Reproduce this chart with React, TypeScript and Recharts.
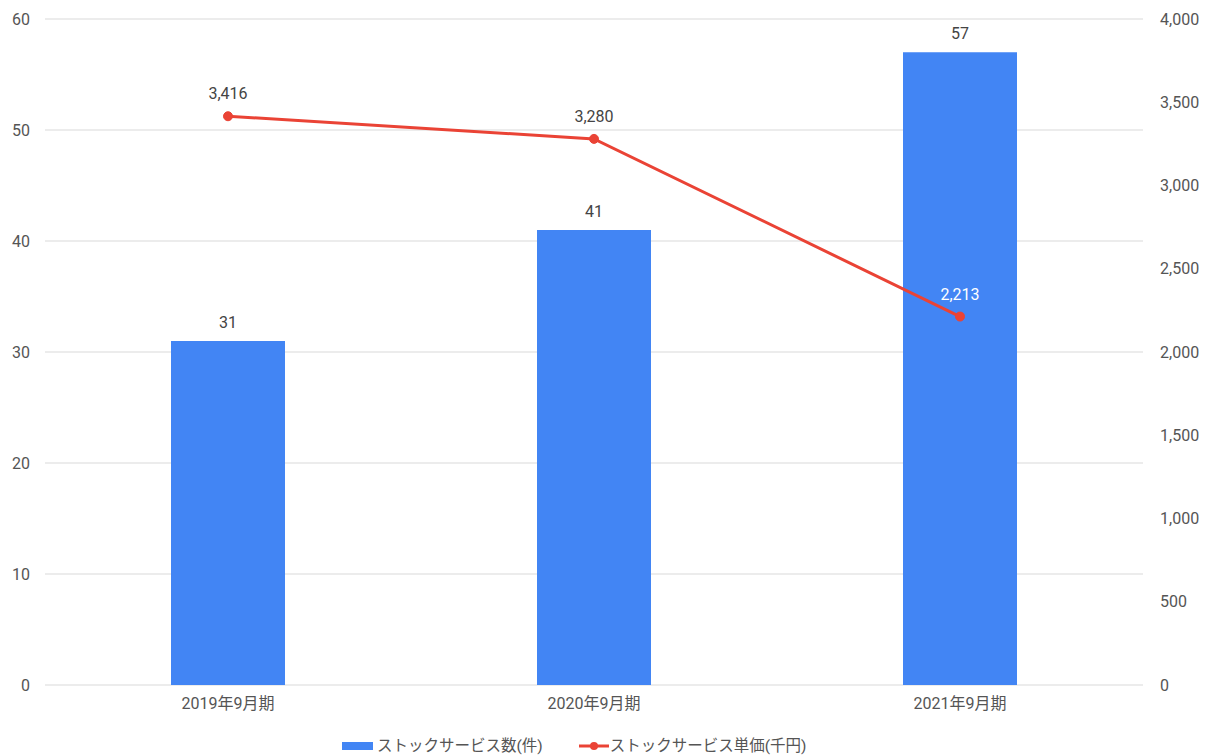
import React from "react";
import {
  ComposedChart,
  Bar,
  Line,
  XAxis,
  YAxis,
  CartesianGrid,
  Legend,
  LabelList,
} from "recharts";

const categories = ["2019年9月期", "2020年9月期", "2021年9月期"];
const serviceCounts = [31, 41, 57];
const unitPrices = [3416, 3280, 2213];
const leftTicks = [0, 10, 20, 30, 40, 50, 60];
const rightTicks = [0, 500, 1000, 1500, 2000, 2500, 3000, 3500, 4000];
const barName = "ストックサービス数(件)";
const lineName = "ストックサービス単価(千円)";
const lineLabelColors = ["#444444", "#444444", "#ffffff"];

const data = categories.map((c, i) => ({
  name: c,
  count: serviceCounts[i],
  price: unitPrices[i],
}));

const FONT = "Roboto, 'Noto Sans CJK JP', Arial, sans-serif";
const BLUE = "#4285F4";
const RED = "#EA4335";
const TICK = { fill: "#555555", fontSize: 16, fontFamily: FONT };

const fmt = (v: number) => v.toLocaleString("en-US");

const LineLabel = (props: any) => {
  const { x, y, value, index } = props;
  return (
    <text
      x={x}
      y={y - 17}
      textAnchor="middle"
      fill={lineLabelColors[index]}
      fontSize={16}
      fontFamily={FONT}
    >
      {fmt(value)}
    </text>
  );
};

const BarLabel = (props: any) => {
  const { x, y, width, value } = props;
  return (
    <text
      x={x + width / 2}
      y={y - 13}
      textAnchor="middle"
      fill="#444444"
      fontSize={16}
      fontFamily={FONT}
    >
      {value}
    </text>
  );
};

const LegendContent = () => (
  <div
    style={{
      height: 41,
      boxSizing: "border-box",
      paddingTop: 20,
      paddingLeft: 342,
      display: "flex",
      alignItems: "center",
      fontFamily: FONT,
      fontSize: 15.5,
      color: "#555555",
      lineHeight: "20px",
    }}
  >
    <span style={{ display: "flex", alignItems: "center" }}>
      <span
        style={{
          display: "inline-block",
          width: 31,
          height: 8,
          background: BLUE,
          marginRight: 4,
        }}
      />
      {barName}
    </span>
    <span style={{ display: "flex", alignItems: "center", marginLeft: 36 }}>
      <svg width={30} height={12} style={{ marginRight: 1 }}>
        <line x1={0} y1={6} x2={30} y2={6} stroke={RED} strokeWidth={3} />
        <circle cx={15} cy={6} r={4} fill={RED} />
      </svg>
      {lineName}
    </span>
  </div>
);

export default function App() {
  return (
    <div style={{ position: "absolute", left: 0, top: 0, background: "#fff" }}>
      <ComposedChart
        width={1208}
        height={756}
        data={data}
        margin={{ top: 19, right: 0, left: 0, bottom: 0 }}
      >
        <CartesianGrid
          yAxisId="left"
          vertical={false}
          stroke="#e6e6e6"
          strokeWidth={1.5}
        />
        <XAxis
          dataKey="name"
          tickLine={false}
          axisLine={false}
          height={30}
          tickMargin={7}
          tick={TICK}
        />
        <YAxis
          yAxisId="left"
          domain={[0, 60]}
          ticks={leftTicks}
          width={45}
          tickLine={false}
          axisLine={false}
          tickMargin={9}
          tick={TICK}
        />
        <YAxis
          yAxisId="right"
          orientation="right"
          domain={[0, 4000]}
          ticks={rightTicks}
          width={65}
          tickLine={false}
          axisLine={false}
          tickMargin={11}
          tick={{ ...TICK, textAnchor: "start" }}
          tickFormatter={fmt}
        />
        <Legend
          verticalAlign="bottom"
          content={LegendContent}
          wrapperStyle={{ left: 0, width: 1208 }}
        />
        <Bar
          yAxisId="left"
          dataKey="count"
          name={barName}
          fill={BLUE}
          barSize={114}
          isAnimationActive={false}
        >
          <LabelList dataKey="count" content={BarLabel} />
        </Bar>
        <Line
          yAxisId="right"
          dataKey="price"
          name={lineName}
          stroke={RED}
          strokeWidth={3}
          dot={{ r: 4.5, fill: RED, stroke: RED, strokeWidth: 1 }}
          activeDot={false}
          isAnimationActive={false}
        >
          <LabelList dataKey="price" content={LineLabel} />
        </Line>
      </ComposedChart>
    </div>
  );
}
